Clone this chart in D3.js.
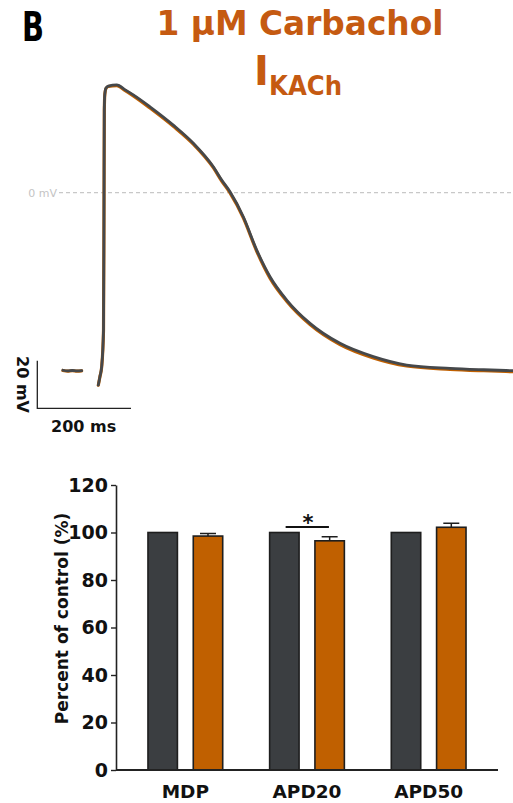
<!DOCTYPE html>
<html>
<head>
<meta charset="utf-8">
<script src="https://cdn.jsdelivr.net/npm/d3@7"></script>
<style>
  html, body { margin: 0; padding: 0; background: #fff; }
  svg { display: block; }
  text { font-family: "DejaVu Sans", sans-serif; }
</style>
</head>
<body>
<svg id="fig" width="513" height="803"></svg>
<script>
// ---- Action potential traces (time in ms, membrane potential in mV) ----
const apTime = [2, 12, 22, 32, 42, null, 77.5, 81, 84.7, 88.6, 89.6, 90.3, 91.4, 93.9, 98.8, 116.8,
  135, 152.2, 187.8, 237.6, 280.3, 323, 340.9, 358.6, 387, 415.6, 444, 479.6, 529.4, 593.4,
  664.5, 735.8, 828.2, 900, 962.7];
const controlMv = [-74.6, -74.9, -74.7, -74.9, -74.8, null, -80.8, -77.2, -73.1, -57.7, -10, 35, 41.5, 44, 44.8, 45.3,
  43.2, 41.1, 36.1, 28.4, 20.8, 10.9, 5.3, 0.4, -10.1, -24.1, -35.3, -45.1, -54.9, -63.3,
  -68.9, -72.4, -73.8, -74.4, -74.8];
const carbacholMv = [-74.7, -75.0, -74.8, -75.0, -74.9, null, -80.9, -77.3, -73.2, -57.8, -10.5, 34.5, 41.2, 43.8, 44.6, 45.0,
  42.9, 40.7, 35.6, 27.9, 20.4, 10.5, 4.9, -0.1, -10.6, -24.6, -35.9, -45.6, -55.4, -63.8,
  -69.4, -72.8, -74.2, -74.8, -75.2];

// ---- Summary bars ----
const params = ["MDP", "APD20", "APD50"];
const conditions = ["Control", "Carbachol"];
const controlPct = [100, 100, 100];
const carbacholPct = [98.5, 96.5, 102.2];
const carbacholSem = [1.1, 1.7, 1.7];
const yTicks = [0, 20, 40, 60, 80, 100, 120];

const DARK = "#3b3e41";
const ORANGE = "#c06000";
const TITLE_ORANGE = "#c55a11";

const svg = d3.select("#fig");

// ---- Headings ----
svg.append("text").attr("x", 22).attr("y", 41)
  .attr("font-size", 40).attr("font-weight", 900).attr("fill", "#000")
  .attr("textLength", 22).attr("lengthAdjust", "spacingAndGlyphs").text("B");

svg.append("text").attr("x", 300).attr("y", 35).attr("text-anchor", "middle")
  .attr("font-size", 33).attr("font-weight", "bold").attr("fill", TITLE_ORANGE)
  .attr("textLength", 287).attr("lengthAdjust", "spacingAndGlyphs")
  .text("1 µM Carbachol");

svg.append("text").attr("x", 254).attr("y", 85)
  .attr("font-size", 40).attr("font-weight", "bold").attr("fill", TITLE_ORANGE)
  .text("I");
svg.append("text").attr("x", 269).attr("y", 95)
  .attr("font-size", 27).attr("font-weight", "bold").attr("fill", TITLE_ORANGE)
  .attr("textLength", 73).attr("lengthAdjust", "spacingAndGlyphs").text("KACh");

// ---- Trace panel ----
const xT = d3.scaleLinear().domain([0, 1000]).range([62, 530.5]);
const yV = d3.scaleLinear().domain([-80, 50]).range([192.7 + 80 * 2.38, 192.7 - 50 * 2.38]);

// 0 mV reference
svg.append("line")
  .attr("x1", 59).attr("x2", 513).attr("y1", yV(0)).attr("y2", yV(0))
  .attr("stroke", "#c8c8c8").attr("stroke-width", 1.2).attr("stroke-dasharray", "4,3");
svg.append("text").attr("x", 57).attr("y", yV(0) + 4).attr("text-anchor", "end")
  .attr("font-size", 11).attr("fill", "#c4c4c4").text("0 mV");

const traceLine = vals => d3.line()
  .defined((d, i) => apTime[i] !== null && vals[i] !== null)
  .x((d, i) => xT(apTime[i]))
  .y((d, i) => yV(vals[i]))
  .curve(d3.curveMonotoneX)(apTime);

svg.append("path").attr("d", traceLine(carbacholMv))
  .attr("fill", "none").attr("stroke", ORANGE).attr("stroke-width", 3.2)
  .attr("stroke-linejoin", "round").attr("stroke-linecap", "round");
svg.append("path").attr("d", traceLine(controlMv))
  .attr("fill", "none").attr("stroke", "#45484b").attr("stroke-width", 2.8)
  .attr("stroke-linejoin", "round").attr("stroke-linecap", "round");

// Scale bars: 20 mV and 200 ms
const sbT0 = -52.7, sbV0 = -90.6;
svg.append("path")
  .attr("d", `M${xT(sbT0)},${yV(sbV0 + 20)}V${yV(sbV0)}H${xT(sbT0 + 200)}`)
  .attr("fill", "none").attr("stroke", "#222").attr("stroke-width", 1.3);
svg.append("text")
  .attr("transform", `translate(${xT(sbT0) - 20},${yV(sbV0 + 10)}) rotate(90)`)
  .attr("text-anchor", "middle").attr("font-size", 16).attr("font-weight", 600)
  .attr("fill", "#111").text("20 mV");
svg.append("text").attr("x", xT(sbT0 + 100) - 0.5).attr("y", 432)
  .attr("text-anchor", "middle").attr("font-size", 16).attr("font-weight", 600)
  .attr("fill", "#111").text("200 ms");

// ---- Bar chart ----
const bx0 = 116, bx1 = 498, by0 = 770, by1 = 485;
const y = d3.scaleLinear().domain([0, 120]).range([by0, by1]);
const x0 = d3.scaleBand().domain(params).range([bx0, bx1]).paddingInner(0).paddingOuter(0.07);
const x1 = d3.scaleBand().domain(conditions).range([0, x0.bandwidth()])
  .paddingInner(0.35).paddingOuter(0.518);

const yAxis = svg.append("g").attr("transform", `translate(${bx0},0)`)
  .call(d3.axisLeft(y).tickValues(yTicks).tickSize(5).tickPadding(3).tickSizeOuter(0));
yAxis.select(".domain").attr("stroke", "#222").attr("stroke-width", 1.6);
yAxis.selectAll(".tick line").attr("stroke", "#222").attr("stroke-width", 1.4);
yAxis.selectAll(".tick text").attr("font-family", "DejaVu Sans").attr("font-size", 19)
  .attr("font-weight", "bold").attr("fill", "#111");

svg.append("text")
  .attr("transform", "translate(68,618.5) rotate(-90)")
  .attr("text-anchor", "middle").attr("font-size", 17).attr("font-weight", 600)
  .attr("fill", "#111").text("Percent of control (%)");

const groups = svg.append("g").selectAll("g").data(params).join("g")
  .attr("transform", d => `translate(${x0(d)},0)`);

groups.append("rect")
  .attr("x", x1("Control")).attr("width", x1.bandwidth())
  .attr("y", (d, i) => y(controlPct[i])).attr("height", (d, i) => by0 - y(controlPct[i]))
  .attr("fill", DARK).attr("stroke", "#1e1e1e").attr("stroke-width", 1.6);

// error bars behind the orange bars
groups.append("path")
  .attr("d", (d, i) => {
    const cx = x1("Carbachol") + x1.bandwidth() / 2;
    const top = y(carbacholPct[i] + carbacholSem[i]);
    return `M${cx},${y(carbacholPct[i])}V${top}M${cx - 8},${top}H${cx + 8}`;
  })
  .attr("fill", "none").attr("stroke", "#1e1e1e").attr("stroke-width", 1.5);

groups.append("rect")
  .attr("x", x1("Carbachol")).attr("width", x1.bandwidth())
  .attr("y", (d, i) => y(carbacholPct[i])).attr("height", (d, i) => by0 - y(carbacholPct[i]))
  .attr("fill", ORANGE).attr("stroke", "#1e1e1e").attr("stroke-width", 1.6);

// x axis baseline
svg.append("line").attr("x1", bx0).attr("x2", bx1).attr("y1", by0).attr("y2", by0)
  .attr("stroke", "#222").attr("stroke-width", 2);

svg.append("g").selectAll("text").data(params).join("text")
  .attr("x", d => x0(d) + x0.bandwidth() / 2).attr("y", 798)
  .attr("text-anchor", "middle").attr("font-size", 18.5).attr("font-weight", "bold")
  .attr("fill", "#111").text(d => d);

// significance marker over APD20
const sigG = x0("APD20");
svg.append("line")
  .attr("x1", sigG + x1("Control") + 16).attr("x2", sigG + x1("Carbachol") + 14)
  .attr("y1", y(102.3)).attr("y2", y(102.3))
  .attr("stroke", "#111").attr("stroke-width", 2);
svg.append("text").attr("x", sigG + x0.bandwidth() / 2 + 1).attr("y", y(102.3) + 3)
  .attr("text-anchor", "middle").attr("font-size", 21).attr("font-weight", "bold")
  .attr("fill", "#111").text("*");
</script>
</body>
</html>
